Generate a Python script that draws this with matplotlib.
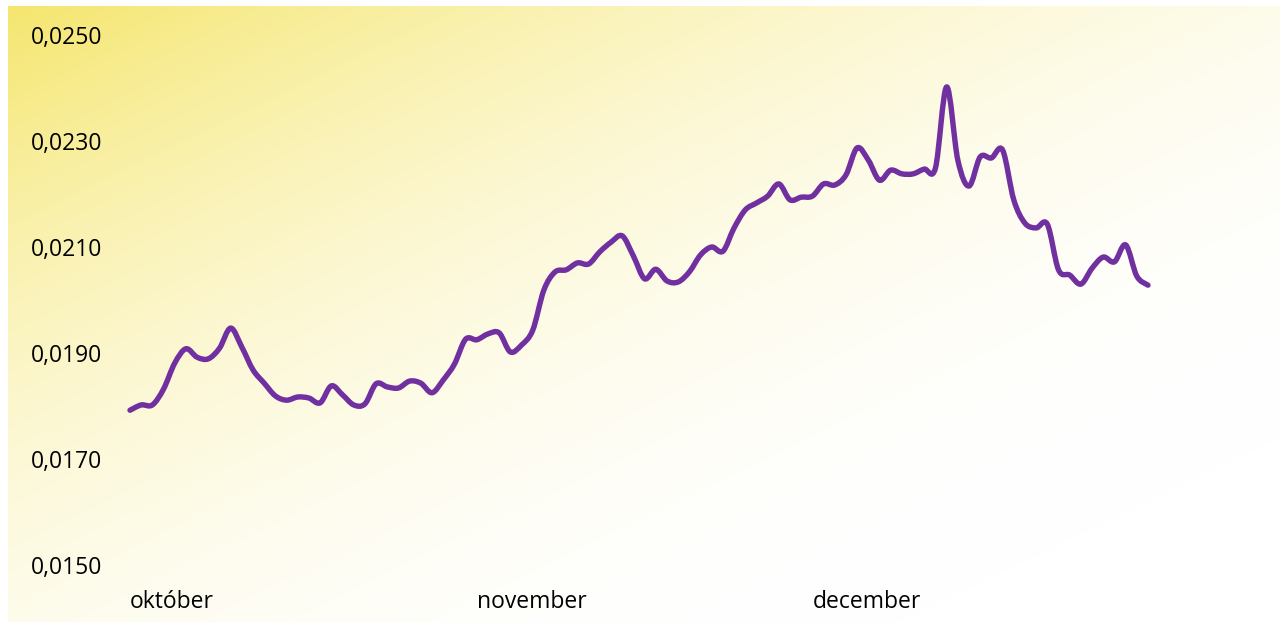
import matplotlib
matplotlib.use('Agg')
import matplotlib.pyplot as plt
import matplotlib.dates as mdates
from matplotlib.path import Path
from matplotlib.patches import PathPatch
import numpy as np
import datetime

plt.rcParams['font.family'] = ['Open Sans', 'DejaVu Sans']

# daily values, 1 Oct - 31 Dec
values = [
    0.01792, 0.01802, 0.01802, 0.01832, 0.01881, 0.01908, 0.01892, 0.01889,
    0.01909, 0.01947, 0.01911, 0.01868, 0.01843, 0.01819, 0.01811, 0.01817,
    0.01815, 0.01806, 0.01838, 0.01821, 0.01802, 0.01804, 0.01842, 0.01836,
    0.01834, 0.01847, 0.01843, 0.01825, 0.01849, 0.01879, 0.01926, 0.01925,
    0.01936, 0.01938, 0.01902, 0.01915, 0.01943, 0.02019, 0.02053, 0.02057,
    0.02070, 0.02068, 0.02091, 0.02109, 0.02121, 0.02083, 0.02040, 0.02058,
    0.02036, 0.02034, 0.02053, 0.02085, 0.02100, 0.02092, 0.02136, 0.02170,
    0.02183, 0.02196, 0.02219, 0.02189, 0.02194, 0.02196, 0.02219, 0.02217,
    0.02236, 0.02287, 0.02264, 0.02226, 0.02245, 0.02238, 0.02238, 0.02247,
    0.02249, 0.02402, 0.02264, 0.02215, 0.02270, 0.02268, 0.02283, 0.02189,
    0.02145, 0.02136, 0.02143, 0.02057, 0.02047, 0.02030, 0.02060, 0.02081,
    0.02072, 0.02104, 0.02045, 0.02028,
]
start = datetime.date(2023, 10, 1)
dates = [start + datetime.timedelta(days=i) for i in range(len(values))]

month_starts = [datetime.date(2023, 10, 1), datetime.date(2023, 11, 1), datetime.date(2023, 12, 1)]
month_labels = ['október', 'november', 'december']
y_ticks = [0.015, 0.017, 0.019, 0.021, 0.023, 0.025]

W, H = 1287, 628
fig = plt.figure(figsize=(W / 100, H / 100), dpi=100)
fig.patch.set_facecolor('white')

# gradient background panel
bg = fig.add_axes([8 / W, 6 / H, 1272 / W, 616 / H])
gx, gy = np.meshgrid(np.linspace(0, 1, 400), np.linspace(0, 1, 200))
t = np.clip((gx + gy) / 1.7, 0, 1)
w = (1 - t) ** 2.2
yellow = np.array([245, 230, 110]) / 255
img = np.ones((200, 400, 3)) * (1 - w[..., None]) + yellow * w[..., None]
bg.imshow(img, aspect='auto', extent=(0, 1, 1, 0), interpolation='bilinear')
bg.set_xlim(0, 1)
bg.set_ylim(1, 0)
bg.axis('off')

ax = fig.add_axes([130 / W, 1 - 565 / H, (1148 - 130) / W, (565 - 35) / H])
ax.patch.set_alpha(0)
x = mdates.date2num(dates)
y = np.array(values)
ax.set_xlim(x[0], x[-1])
ax.set_ylim(0.015, 0.025)

# smoothed line (Catmull-Rom style bezier through the points)
verts = [(x[0], y[0])]
codes = [Path.MOVETO]
n = len(x)
for i in range(n - 1):
    p0 = max(i - 1, 0)
    p3 = min(i + 2, n - 1)
    c1 = (x[i] + (x[i + 1] - x[p0]) / 6, y[i] + (y[i + 1] - y[p0]) / 6)
    c2 = (x[i + 1] - (x[p3] - x[i]) / 6, y[i + 1] - (y[p3] - y[i]) / 6)
    verts += [c1, c2, (x[i + 1], y[i + 1])]
    codes += [Path.CURVE4] * 3
ax.add_patch(PathPatch(Path(verts, codes), fill=False, edgecolor='#7030A0',
                       lw=3.9, capstyle='round', joinstyle='round', clip_on=False))

for s in ax.spines.values():
    s.set_visible(False)
ax.set_yticks(y_ticks)
ax.set_yticklabels([f'{v:.4f}'.replace('.', ',') for v in y_ticks])
ax.set_xticks(mdates.date2num(month_starts))
ax.set_xticklabels(month_labels, ha='left')
ax.tick_params(axis='y', length=0, pad=20, labelsize=16.5)
ax.tick_params(axis='x', length=0, pad=18, labelsize=16.5)

fig.savefig('out.png', dpi=100, facecolor='white')
